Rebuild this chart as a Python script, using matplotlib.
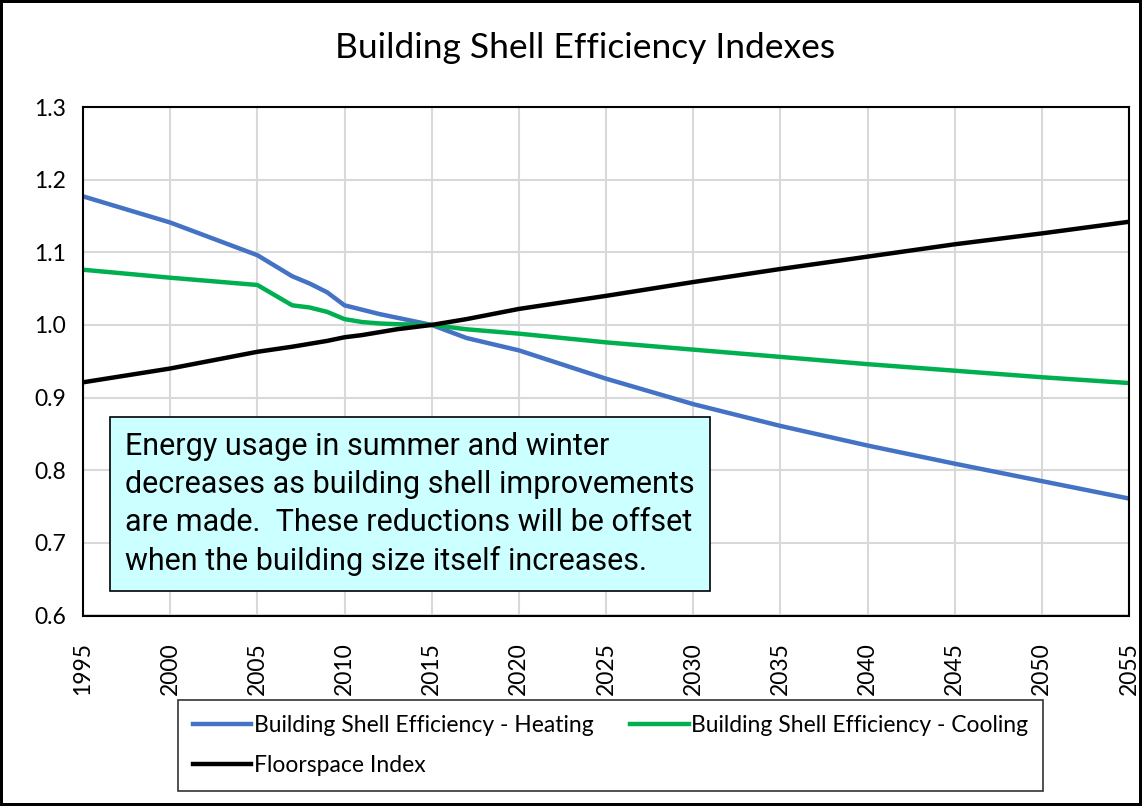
import matplotlib.pyplot as plt
import matplotlib.font_manager as fm

# values
years = [1995, 2000, 2005, 2007, 2008, 2009, 2010, 2011, 2012, 2013, 2014, 2015,
         2017, 2020, 2025, 2030, 2035, 2040, 2045, 2050, 2055]
heating = [1.177, 1.141, 1.096, 1.067, 1.057, 1.045, 1.027, 1.021, 1.015, 1.010, 1.005, 1.000,
           0.982, 0.965, 0.926, 0.891, 0.861, 0.834, 0.809, 0.785, 0.761]
cooling = [1.076, 1.065, 1.055, 1.027, 1.024, 1.018, 1.008, 1.004, 1.002, 1.001, 1.0005, 1.000,
           0.994, 0.988, 0.976, 0.966, 0.956, 0.946, 0.937, 0.928, 0.920]
floorspace = [0.921, 0.940, 0.963, 0.970, 0.974, 0.978, 0.983, 0.986, 0.990, 0.994, 0.997, 1.000,
              1.008, 1.022, 1.040, 1.059, 1.077, 1.094, 1.111, 1.126, 1.142]

x_ticks = list(range(1995, 2056, 5))
y_ticks = [0.6, 0.7, 0.8, 0.9, 1.0, 1.1, 1.2, 1.3]

names = [f.name for f in fm.fontManager.ttflist]
main_font = 'Lato' if 'Lato' in names else 'DejaVu Sans'
box_font = 'Liberation Sans Narrow' if 'Liberation Sans Narrow' in names else 'Roboto'
plt.rcParams['font.family'] = [main_font, 'DejaVu Sans']

fig = plt.figure(figsize=(11.42, 8.06), dpi=100)
fig.patch.set_edgecolor('black')
fig.patch.set_linewidth(3)
ax = fig.add_axes([83 / 1142, 1 - 615.5 / 806, (1129 - 83) / 1142, (615.5 - 107) / 806])

l1, = ax.plot(years, heating, color='#4472C4', lw=3.2, label='Building Shell Efficiency - Heating')
l2, = ax.plot(years, cooling, color='#00B050', lw=3.2, label='Building Shell Efficiency - Cooling')
l3, = ax.plot(years, floorspace, color='black', lw=3.2, label='Floorspace Index')

ax.set_xlim(1995, 2055)
ax.set_ylim(0.6, 1.3)
ax.set_xticks(x_ticks)
ax.set_xticklabels([str(x) for x in x_ticks], rotation=90, fontsize=16.5)
ax.set_yticks(y_ticks)
ax.set_yticklabels([f'{y:.1f}' for y in y_ticks], fontsize=16.5)
ax.tick_params(axis='x', length=0, pad=19)
ax.tick_params(axis='y', length=0, pad=12)
ax.grid(True, color='#D9D9D9', lw=1.5)
ax.set_axisbelow(True)
for s in ax.spines.values():
    s.set_linewidth(1.5)
    s.set_color('black')

fig.text(585 / 1142, 1 - 48 / 806, 'Building Shell Efficiency Indexes', ha='center', va='center', fontsize=25.5)

ax.text(0.040, 0.360,
        'Energy usage in summer and winter\ndecreases as building shell improvements\n'
        'are made.  These reductions will be offset\nwhen the building size itself increases.',
        transform=ax.transAxes, ha='left', va='top', fontsize=22, family=[box_font, 'DejaVu Sans'],
        linespacing=1.38,
        bbox=dict(boxstyle='square,pad=0.5', facecolor='#CCFFFF', edgecolor='black', lw=1.2))

leg = fig.legend(handles=[l1, l3, l2], ncol=2, loc='center', bbox_to_anchor=(610.5 / 1142, 1 - 745.5 / 806),
                 frameon=True, fancybox=False, edgecolor='black', fontsize=16.5,
                 handlelength=2.55, handletextpad=0.1, columnspacing=1.6, labelspacing=0.8,
                 borderpad=0.65, borderaxespad=0)
leg.get_frame().set_linewidth(1.2)

fig.savefig('out.png', dpi=100, edgecolor=fig.get_edgecolor())
